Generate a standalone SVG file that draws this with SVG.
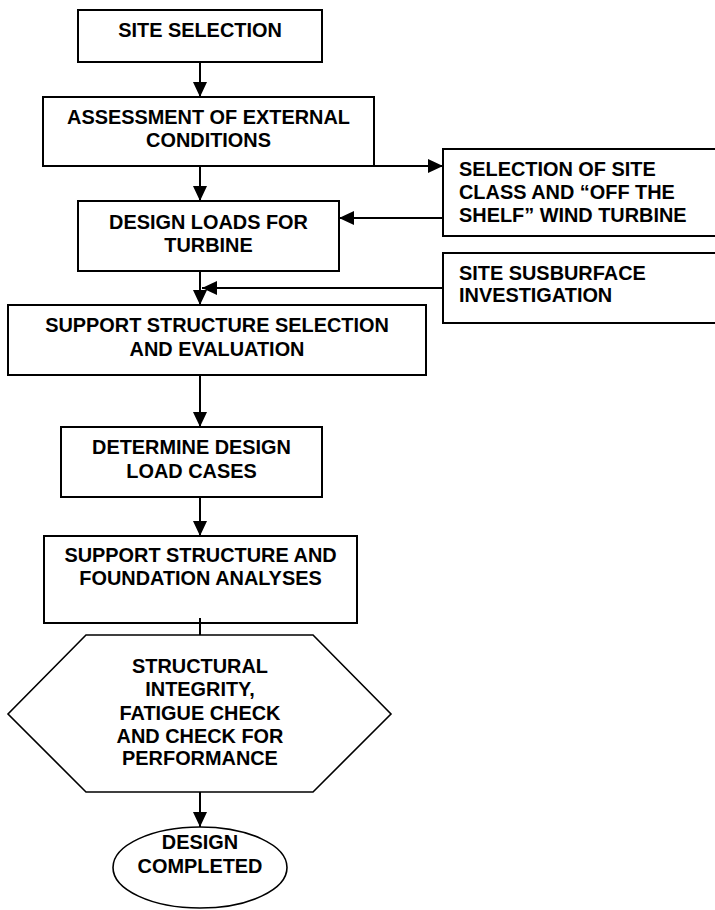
<svg xmlns="http://www.w3.org/2000/svg" width="715" height="910" viewBox="0 0 715 910">
<defs>
<marker id="ah" markerUnits="userSpaceOnUse" markerWidth="16" markerHeight="16" refX="15" refY="7" orient="auto" viewBox="0 0 16 14">
<path d="M0,0 L15,7 L0,14 z" fill="#000"/>
</marker>
</defs>
<style>
.box{fill:#fff;stroke:#000;stroke-width:2}
.thin{fill:#fff;stroke:#000;stroke-width:1.6}
.t{font-family:"Liberation Sans",Arial,sans-serif;font-weight:bold;font-size:19.9px;fill:#000;text-anchor:middle}
.tl{font-family:"Liberation Sans",Arial,sans-serif;font-weight:bold;font-size:19.9px;fill:#000}
.c{stroke:#000;stroke-width:2;fill:none}
.ca{stroke:#000;stroke-width:2;fill:none;marker-end:url(#ah)}
</style>
<rect width="715" height="910" fill="#fff"/>
<g id="site-selection">
<rect class="box" x="78" y="10" width="244" height="52"/>
<text class="t" x="200" y="37">SITE SELECTION</text>
</g>
<g id="assessment">
<rect class="box" x="43" y="97" width="331" height="69"/>
<text class="t" x="208.5" y="124">ASSESSMENT OF EXTERNAL</text>
<text class="t" x="208.5" y="147">CONDITIONS</text>
</g>
<g id="design-loads">
<rect class="box" x="78" y="201" width="261" height="70"/>
<text class="t" x="208.5" y="229">DESIGN LOADS FOR</text>
<text class="t" x="208.5" y="252">TURBINE</text>
</g>
<g id="site-class">
<rect class="box" x="443" y="149" width="290" height="87"/>
<text class="tl" x="459" y="176">SELECTION OF SITE</text>
<text class="tl" x="459" y="199">CLASS AND “OFF THE</text>
<text class="tl" x="459" y="222">SHELF” WIND TURBINE</text>
</g>
<g id="subsurface">
<rect class="box" x="443" y="253" width="290" height="70"/>
<text class="tl" x="459" y="280">SITE SUSBURFACE</text>
<text class="tl" x="459" y="302">INVESTIGATION</text>
</g>
<g id="support-selection">
<rect class="box" x="8" y="305" width="418" height="70"/>
<text class="t" x="217" y="332">SUPPORT STRUCTURE SELECTION</text>
<text class="t" x="217" y="356">AND EVALUATION</text>
</g>
<g id="load-cases">
<rect class="box" x="61" y="427" width="261" height="70"/>
<text class="t" x="191.5" y="454">DETERMINE DESIGN</text>
<text class="t" x="191.5" y="478">LOAD CASES</text>
</g>
<g id="analyses">
<rect class="box" x="44" y="536" width="313" height="87"/>
<text class="t" x="200.5" y="562">SUPPORT STRUCTURE AND</text>
<text class="t" x="200.5" y="585">FOUNDATION ANALYSES</text>
</g>
<g id="integrity-check">
<polygon class="thin" points="86,635 313,635 391,714 313,792 86,792 8,714"/>
<text class="t" x="200" y="673">STRUCTURAL</text>
<text class="t" x="200" y="696">INTEGRITY,</text>
<text class="t" x="200" y="720">FATIGUE CHECK</text>
<text class="t" x="200" y="743">AND CHECK FOR</text>
<text class="t" x="200" y="765">PERFORMANCE</text>
</g>
<g id="design-completed">
<ellipse class="thin" cx="200" cy="867.5" rx="87" ry="40.5"/>
<text class="t" x="200" y="849">DESIGN</text>
<text class="t" x="200" y="873">COMPLETED</text>
</g>
<g id="connectors">
<line class="ca" x1="200" y1="62" x2="200" y2="97"/>
<line class="ca" x1="200" y1="166" x2="200" y2="201"/>
<line class="ca" x1="374" y1="166" x2="443" y2="166"/>
<line class="ca" x1="443" y1="218" x2="339" y2="218"/>
<line class="ca" x1="200" y1="271" x2="200" y2="305"/>
<line class="ca" x1="443" y1="288" x2="202" y2="288"/>
<line class="ca" x1="200" y1="375" x2="200" y2="427"/>
<line class="ca" x1="200" y1="497" x2="200" y2="536"/>
<line class="c" x1="200" y1="618" x2="200" y2="635"/>
<line class="ca" x1="200" y1="792" x2="200" y2="827"/>
</g>
</svg>
